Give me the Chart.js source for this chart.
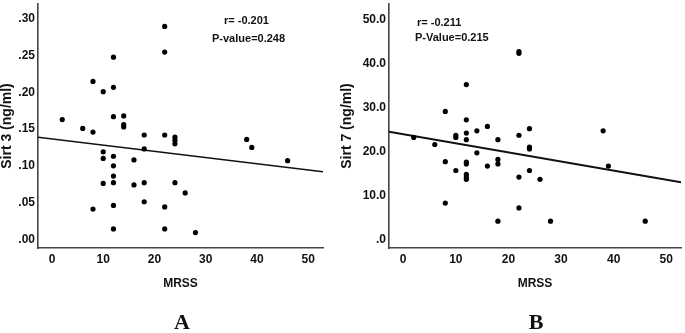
<!DOCTYPE html>
<html>
<head>
<meta charset="utf-8">
<script src="https://cdn.jsdelivr.net/npm/chart.js@4/dist/chart.umd.min.js"></script>
<style>
  html, body { margin: 0; padding: 0; background: #fff; }
  #wrap { position: relative; width: 685px; height: 333px; overflow: hidden; }
  .panel { position: absolute; top: 0; height: 333px; }
  #panelA { left: 0; width: 340px; }
  #panelB { left: 340px; width: 345px; }
</style>
</head>
<body>
<div id="wrap">
  <div class="panel" id="panelA"><canvas id="chartA"></canvas></div>
  <div class="panel" id="panelB"><canvas id="chartB"></canvas></div>
</div>
<script>
/* ─── Data: panel A (Sirt 3 vs MRSS) ─── */
const mrssA = [2, 6, 8, 8, 8, 10, 10, 10, 10, 12, 12, 12, 12, 12, 12, 12, 12, 12,
  14, 14, 14, 16, 16, 18, 18, 18, 18, 22, 22, 22, 22, 22, 24, 24, 24, 24, 26, 28, 38, 39, 46];
const sirt3 = [0.163, 0.151, 0.146, 0.215, 0.041, 0.201, 0.119, 0.110, 0.076,
  0.248, 0.207, 0.167, 0.113, 0.100, 0.086, 0.077, 0.046, 0.014,
  0.168, 0.156, 0.153, 0.108, 0.074, 0.142, 0.123, 0.077, 0.051,
  0.290, 0.255, 0.142, 0.044, 0.014, 0.139, 0.135, 0.130, 0.077,
  0.063, 0.009, 0.136, 0.125, 0.107];
const fitA = { intercept: 0.1367, slope: -0.000847 };

/* ─── Data: panel B (Sirt 7 vs MRSS) ─── */
const mrssB = [2, 6, 8, 8, 8, 10, 10, 10, 12, 12, 12, 12, 12, 12, 12, 12, 12,
  14, 14, 16, 16, 18, 18, 18, 18, 22, 22, 22, 22, 22, 24, 24, 24, 24, 26, 28, 38, 39, 46];
const sirt7 = [23.3, 21.7, 29.2, 17.8, 8.4, 23.8, 23.3, 15.8,
  35.3, 27.3, 24.3, 22.8, 17.7, 17.3, 14.9, 14.3, 13.8,
  24.8, 19.8, 25.8, 16.8, 22.8, 18.3, 17.3, 4.3,
  42.8, 42.4, 23.8, 14.3, 7.3, 25.3, 21.1, 20.7, 15.8,
  13.8, 4.3, 24.8, 16.8, 4.3];
const fitB = { intercept: 24.04, slope: -0.207 };

/* ─── Ticks ─── */
const xTicks = [0, 10, 20, 30, 40, 50];
const yTicksA = [0, 0.05, 0.10, 0.15, 0.20, 0.25, 0.30];
const yLabelsA = ['.00', '.05', '.10', '.15', '.20', '.25', '.30'];
const yTicksB = [0, 10, 20, 30, 40, 50];
const yLabelsB = ['.0', '10.0', '20.0', '30.0', '40.0', '50.0'];

const SANS = "'Liberation Sans', Arial, sans-serif";
const SERIF = "'Liberation Serif', 'Times New Roman', serif";

/* ─── Text overlay: r / P-value and panel letter ─── */
const overlayPlugin = {
  id: 'overlay',
  afterDraw(chart, args, opts) {
    const ctx = chart.ctx;
    ctx.save();
    ctx.fillStyle = '#111';
    ctx.textBaseline = 'middle';
    ctx.textAlign = 'left';
    ctx.font = 'bold 11px ' + SANS;
    opts.notes.forEach(n => ctx.fillText(n.text, n.x, n.y));
    ctx.font = 'bold 22px ' + SERIF;
    ctx.textAlign = 'center';
    ctx.textBaseline = 'alphabetic';
    ctx.fillText(opts.letter, opts.letterX, 329);
    ctx.restore();
  }
};

function makeChart(id, cfg) {
  const points = cfg.xs.map((x, i) => ({ x: x, y: cfg.ys[i] }));
  const fitLine = [cfg.xMin, cfg.xMax].map(x => ({ x: x, y: cfg.fit.intercept + cfg.fit.slope * x }));

  return new Chart(document.getElementById(id), {
    type: 'scatter',
    data: {
      datasets: [
        {
          data: points,
          backgroundColor: '#000',
          borderColor: '#000',
          pointRadius: 2.6,
          pointBorderWidth: 0
        },
        {
          type: 'line',
          data: fitLine,
          borderColor: '#111',
          borderWidth: cfg.fitWidth,
          pointRadius: 0,
          fill: false
        }
      ]
    },
    options: {
      responsive: true,
      maintainAspectRatio: false,
      animation: false,
      events: [],
      layout: { padding: { left: 0, top: 0, right: cfg.padRight, bottom: 0 } },
      plugins: {
        legend: { display: false },
        tooltip: { enabled: false },
        overlay: { notes: cfg.notes, letter: cfg.letter, letterX: cfg.letterX }
      },
      scales: {
        x: {
          type: 'linear',
          min: cfg.xMin,
          max: cfg.xMax,
          afterBuildTicks: s => { s.ticks = xTicks.map(v => ({ value: v })); },
          afterFit: s => { s.height = 85; s.paddingLeft = 0; s.paddingRight = 0; },
          grid: { display: false, drawTicks: false },
          border: { display: true, color: '#444', width: 1.6 },
          ticks: { color: '#111', padding: 4, font: { family: SANS, size: 12, weight: 'bold' } },
          title: {
            display: true,
            text: 'MRSS',
            color: '#111',
            padding: { top: 0, bottom: 42 },
            font: { family: SANS, size: 12, weight: 'bold' }
          }
        },
        y: {
          type: 'linear',
          min: cfg.yMin,
          max: cfg.yMax,
          afterBuildTicks: s => { s.ticks = cfg.yTicks.map(v => ({ value: v })); },
          afterFit: s => { s.width = cfg.yWidth; s.paddingTop = 0; s.paddingBottom = 0; },
          grid: { display: false, drawTicks: false },
          border: { display: true, color: '#444', width: 1.6 },
          ticks: {
            color: '#111',
            padding: 3,
            font: { family: SANS, size: 12, weight: 'bold' },
            callback: (v) => {
              const i = cfg.yTicks.findIndex(t => Math.abs(t - v) < 1e-9);
              return i >= 0 ? cfg.yLabels[i] : '';
            }
          },
          title: {
            display: true,
            text: cfg.yTitle,
            color: '#111',
            padding: { top: 0, bottom: 0 },
            font: { family: SANS, size: 14, weight: 'bold', lineHeight: 1.05 }
          }
        }
      }
    },
    plugins: [overlayPlugin]
  });
}

/* ─── Panel A ─── */
makeChart('chartA', {
  xs: mrssA, ys: sirt3, fit: fitA, fitWidth: 1.4,
  xMin: -2.73, xMax: 52.9, yMin: -0.012, yMax: 0.3205,
  yTicks: yTicksA, yLabels: yLabelsA, yTitle: 'Sirt 3 (ng/ml)',
  yWidth: 38, padRight: 17,
  notes: [{ text: 'r= -0.201', x: 224, y: 21 }, { text: 'P-value=0.248', x: 212, y: 39 }],
  letter: 'A', letterX: 182
});

/* ─── Panel B ─── */
makeChart('chartB', {
  xs: mrssB, ys: sirt7, fit: fitB, fitWidth: 2,
  xMin: -2.7, xMax: 52.8, yMin: -1.8, yMax: 53.6,
  yTicks: yTicksB, yLabels: yLabelsB, yTitle: 'Sirt 7 (ng/ml)',
  yWidth: 49, padRight: 2,
  notes: [{ text: 'r= -0.211', x: 77, y: 23 }, { text: 'P-Value=0.215', x: 75, y: 38 }],
  letter: 'B', letterX: 196
});
</script>
</body>
</html>
